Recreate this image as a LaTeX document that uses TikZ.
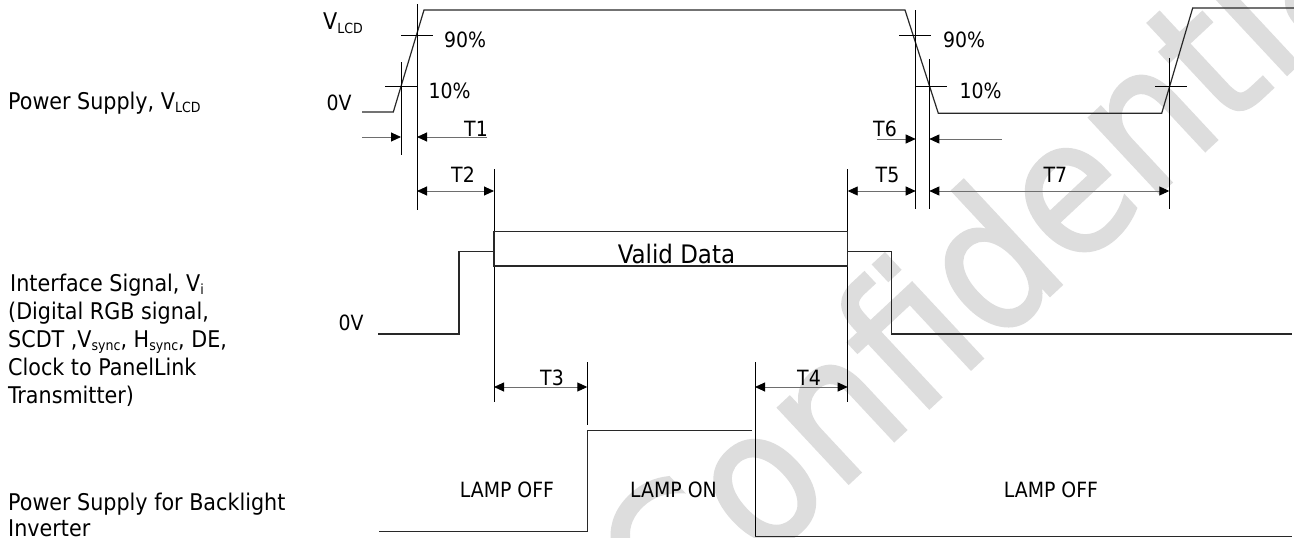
\documentclass[tikz,border=0pt]{standalone}
\usepackage{fontspec}
\IfFontExistsTF{DejaVu Sans Condensed}
  {\setmainfont{DejaVu Sans Condensed}\newfontfamily\wmfont{DejaVu Sans Condensed}[FakeBold=1.6]}
  {\setmainfont{DejaVu Sans}[FakeStretch=0.9]\newfontfamily\wmfont{DejaVu Sans}[FakeStretch=0.9,FakeBold=1.6]}
\usetikzlibrary{arrows.meta}
\definecolor{wmgray}{RGB}{221,221,221}
\definecolor{sigc}{RGB}{40,40,40}
\definecolor{dimc}{RGB}{110,110,110}
\newcommand\mysub[1]{\raisebox{-3pt}{\fontsize{14}{14}\selectfont #1}}
\begin{document}
\begin{tikzpicture}[x=1pt,y=-1pt,
  sig/.style={line width=1.2pt, draw=sigc},
  thin/.style={line width=0.9pt, draw=black},
  dimline/.style={line width=0.9pt, draw=dimc, {Triangle[length=10pt,width=9pt,color=black]}-{Triangle[length=10pt,width=9pt,color=black]}},
  oneway/.style={line width=0.9pt, draw=dimc, -{Triangle[length=10pt,width=9pt,color=black]}},
  lbl/.style={font=\fontsize{23}{28}\selectfont, inner sep=0pt, anchor=base west},
  sm/.style={font=\fontsize{21}{25}\selectfont, inner sep=0pt, anchor=base},
  wm/.style={font=\wmfont\fontsize{188}{188}\selectfont, text=wmgray, inner sep=0pt}
]
\useasboundingbox (0,0) rectangle (1294,538);
\fill[white] (0,0) rectangle (1294,538);

% watermark
\node[wm, rotate=43] (wmark) at (1000,246) {Confidential};

% ---- left labels
\node[lbl] (lps) at (8,109) {Power Supply, V\mysub{LCD}};
\node[lbl] (li1) at (10,291.7) {Interface Signal, V\mysub{i}};
\node[lbl] (li2) at (8,319.6) {(Digital RGB signal,};
\node[lbl] (li3) at (8,347.5) {SCDT ,V\mysub{sync}, H\mysub{sync}, DE,};
\node[lbl] (li4) at (8,375.4) {Clock to PanelLink};
\node[lbl] (li5) at (8,403.3) {Transmitter)};
\node[lbl] (lb1) at (8,510) {Power Supply for Backlight};
\node[lbl] (lb2) at (8,536.5) {Inverter};

% ---- VLCD waveform
\draw[sig] (362,112) -- (393.3,112) -- (424,10) -- (905,10) -- (938.3,113.3) -- (1161.7,113.3) -- (1192.7,8) -- (1294,8);
% ticks
\draw[thin] (401,35) -- (433,35);
\draw[thin] (385,86) -- (417,86);
\draw[thin] (899,35) -- (931,35);
\draw[thin] (915.7,86) -- (947,86);
\draw[thin] (1155,86) -- (1187,86);

% reference verticals
\coordinate (a1) at (401,62);   \coordinate (a2) at (401,155);
\coordinate (b1) at (417,4);    \coordinate (b2) at (417,210);
\coordinate (c1) at (494,169);  \coordinate (c2) at (494,402);
\coordinate (d1) at (847.7,169);\coordinate (d2) at (847.7,402);
\coordinate (e1) at (915.7,10); \coordinate (e2) at (915.7,209);
\coordinate (f1) at (929.3,59); \coordinate (f2) at (929.3,209);
\coordinate (g1) at (1169.3,58);\coordinate (g2) at (1169.3,209);
\coordinate (h1) at (587.3,362);\coordinate (h2) at (587.3,425);
\coordinate (k1) at (755,362);  \coordinate (k2) at (755,536.7);
\foreach \p in {a,b,c,d,e,f,g,h,k} \draw[thin] (\p1) -- (\p2);

% ---- dimension arrows
\coordinate (t1l) at (362,137);   \coordinate (t1a) at (401,137);
\coordinate (t1b) at (417,137);   \coordinate (t1r) at (487,137);
\draw[oneway] (t1l) -- (t1a);
\draw[oneway] (t1r) -- (t1b);
\coordinate (t6l) at (876.7,139); \coordinate (t6a) at (915.7,139);
\coordinate (t6b) at (929.3,139); \coordinate (t6r) at (1001.7,139);
\draw[oneway] (t6l) -- (t6a);
\draw[oneway] (t6r) -- (t6b);
\coordinate (t2a) at (417,191);   \coordinate (t2b) at (494,191);
\coordinate (t5a) at (847.7,191); \coordinate (t5b) at (915.7,191);
\coordinate (t7a) at (929.3,191); \coordinate (t7b) at (1169.3,191);
\coordinate (t3a) at (494,387);   \coordinate (t3b) at (587.3,387);
\coordinate (t4a) at (755,387);   \coordinate (t4b) at (847.7,387);
\draw[dimline] (t2a) -- (t2b);
\draw[dimline] (t5a) -- (t5b);
\draw[dimline] (t7a) -- (t7b);
\draw[dimline] (t3a) -- (t3b);
\draw[dimline] (t4a) -- (t4b);

% ---- interface signal
\node[draw=sigc, line width=1.2pt, minimum width=353.7pt, minimum height=34.3pt, inner sep=0pt] (vd) at (670.85,248.85) {};
\draw[sig] (378,334) -- (459,334) -- (459,251.7) -- (494,251.7);
\draw[sig] (847.7,251.7) -- (891.7,251.7) -- (891.7,334) -- (1292,334);
\node[font=\fontsize{25.5}{30}\selectfont, inner sep=0pt, anchor=base] (vdt) at (676.5,263) {Valid Data};

% ---- backlight
\draw[sig] (379,531.7) -- (587.3,531.7) -- (587.3,430.7) -- (751.7,430.7);
\draw[sig] (755,536.7) -- (1292,536.7);

% ---- small labels
\node[sm, font=\fontsize{23}{28}\selectfont] (vlcd) at (343,30) {V\mysub{LCD}};
\node[sm] (n90a) at (465,47) {90\%};
\node[sm] (n10a) at (449.5,98) {10\%};
\node[sm] (n0a) at (339,110) {0V};
\node[sm] (nt1) at (476,136.5) {T1};
\node[sm] (nt2) at (463,182) {T2};
\node[sm] (n90b) at (964,47) {90\%};
\node[sm] (n10b) at (980.5,98) {10\%};
\node[sm] (nt6) at (885,136.7) {T6};
\node[sm] (nt5) at (887.5,182) {T5};
\node[sm] (nt7) at (1055.3,182) {T7};
\node[sm] (n0b) at (351,330) {0V};
\node[sm] (nt3) at (552,385) {T3};
\node[sm] (nt4) at (809,385) {T4};
\node[sm] (lo1) at (507,497) {LAMP OFF};
\node[sm] (lon) at (673.5,497) {LAMP ON};
\node[sm] (lo2) at (1051,497) {LAMP OFF};
\end{tikzpicture}
\end{document}
